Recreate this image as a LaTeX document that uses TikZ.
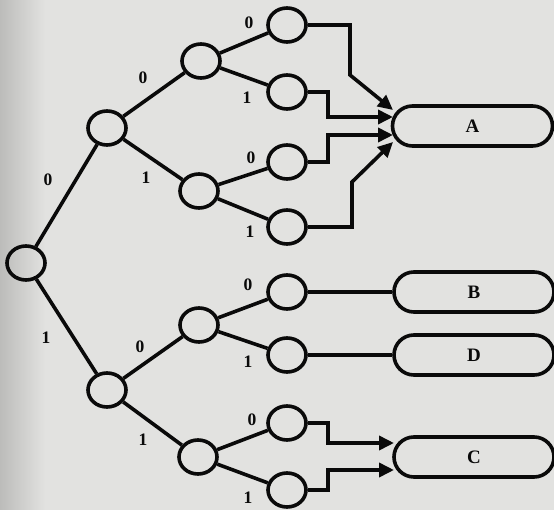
\documentclass[tikz,border=0pt]{standalone}
\usepackage{fontspec}
\setmainfont{Liberation Serif}
\usetikzlibrary{arrows.meta,shapes.geometric}
\definecolor{paper}{RGB}{226,226,224}
\definecolor{paperdark}{RGB}{188,188,186}
\definecolor{ink}{RGB}{10,10,10}
\begin{document}
\begin{tikzpicture}[x=1pt,y=-1pt,
  vtx/.style={ellipse,draw=ink,line width=3.6pt,minimum width=38pt,minimum height=34pt,inner sep=0pt},
  edge/.style={draw=ink,line width=3.6pt},
  conn/.style={draw=ink,line width=3.6pt,line join=miter},
  arr/.style={conn,-{Triangle[length=15pt,width=14pt]}},
  bit/.style={font=\fontsize{17.5}{19}\selectfont\bfseries,text=ink,inner sep=0pt},
  target/.style={draw=ink,line width=3.6pt,rounded corners=20pt,minimum width=160pt,minimum height=40pt,inner sep=0pt,font=\fontsize{19}{21}\selectfont\bfseries,text=ink}]
\useasboundingbox (0,0) rectangle (554,510);
\fill[paper] (0,0) rectangle (554,510);
\shade[left color=paperdark,right color=paper] (0,0) rectangle (45,510);
% tree nodes
\node[vtx] (r) at (26,263) {};
\node[vtx] (p0) at (107,128) {};
\node[vtx] (p1) at (107,390) {};
\node[vtx] (q00) at (201,61) {};
\node[vtx] (q01) at (199,191) {};
\node[vtx] (q10) at (199,325) {};
\node[vtx] (q11) at (198,457) {};
\node[vtx] (l1) at (287,25) {};
\node[vtx] (l2) at (287,92) {};
\node[vtx] (l3) at (287,162) {};
\node[vtx] (l4) at (287,227) {};
\node[vtx] (l5) at (287,292) {};
\node[vtx] (l6) at (287,355) {};
\node[vtx] (l7) at (287,423) {};
\node[vtx] (l8) at (287,490) {};
% targets
\node[target] (A) at (472.5,126) {A};
\node[target] (B) at (474,292) {B};
\node[target] (D) at (474,355) {D};
\node[target] (C) at (474,457) {C};
% tree edges
\draw[edge] (r) -- (p0);
\draw[edge] (r) -- (p1);
\draw[edge] (p0) -- (q00);
\draw[edge] (p0) -- (q01);
\draw[edge] (p1) -- (q10);
\draw[edge] (p1) -- (q11);
\draw[edge] (q00) -- (l1);
\draw[edge] (q00) -- (l2);
\draw[edge] (q01) -- (l3);
\draw[edge] (q01) -- (l4);
\draw[edge] (q10) -- (l5);
\draw[edge] (q10) -- (l6);
\draw[edge] (q11) -- (l7);
\draw[edge] (q11) -- (l8);
% labels
\node[bit] at (48,180) {0};
\node[bit] at (46,338) {1};
\node[bit] at (143,78) {0};
\node[bit] at (146,178) {1};
\node[bit] at (140,347) {0};
\node[bit] at (143,440) {1};
\node[bit] at (249,23) {0};
\node[bit] at (247,98) {1};
\node[bit] at (251,158) {0};
\node[bit] at (250,232) {1};
\node[bit] at (248,285) {0};
\node[bit] at (248,362) {1};
\node[bit] at (252,420) {0};
\node[bit] at (248,498) {1};
% connector ends
\coordinate (a1) at (393,110);
\coordinate (a2) at (393,117);
\coordinate (a3) at (393,135);
\coordinate (a4) at (393,142);
\coordinate (c1) at (394,443);
\coordinate (c2) at (394,470);
% connectors
\draw[arr] (l1.east) -- (350,25) -- (350,75) -- (a1);
\draw[arr] (l2.east) -- (328,92) -- (328,117) -- (a2);
\draw[arr] (l3.east) -- (328,162) -- (328,135) -- (a3);
\draw[arr] (l4.east) -- (352,227) -- (352,182) -- (a4);
\draw[conn] (l5.east) -- (B.west);
\draw[conn] (l6.east) -- (D.west);
\draw[arr] (l7.east) -- (328,423) -- (328,443) -- (c1);
\draw[arr] (l8.east) -- (328,490) -- (328,470) -- (c2);
\end{tikzpicture}
\end{document}
